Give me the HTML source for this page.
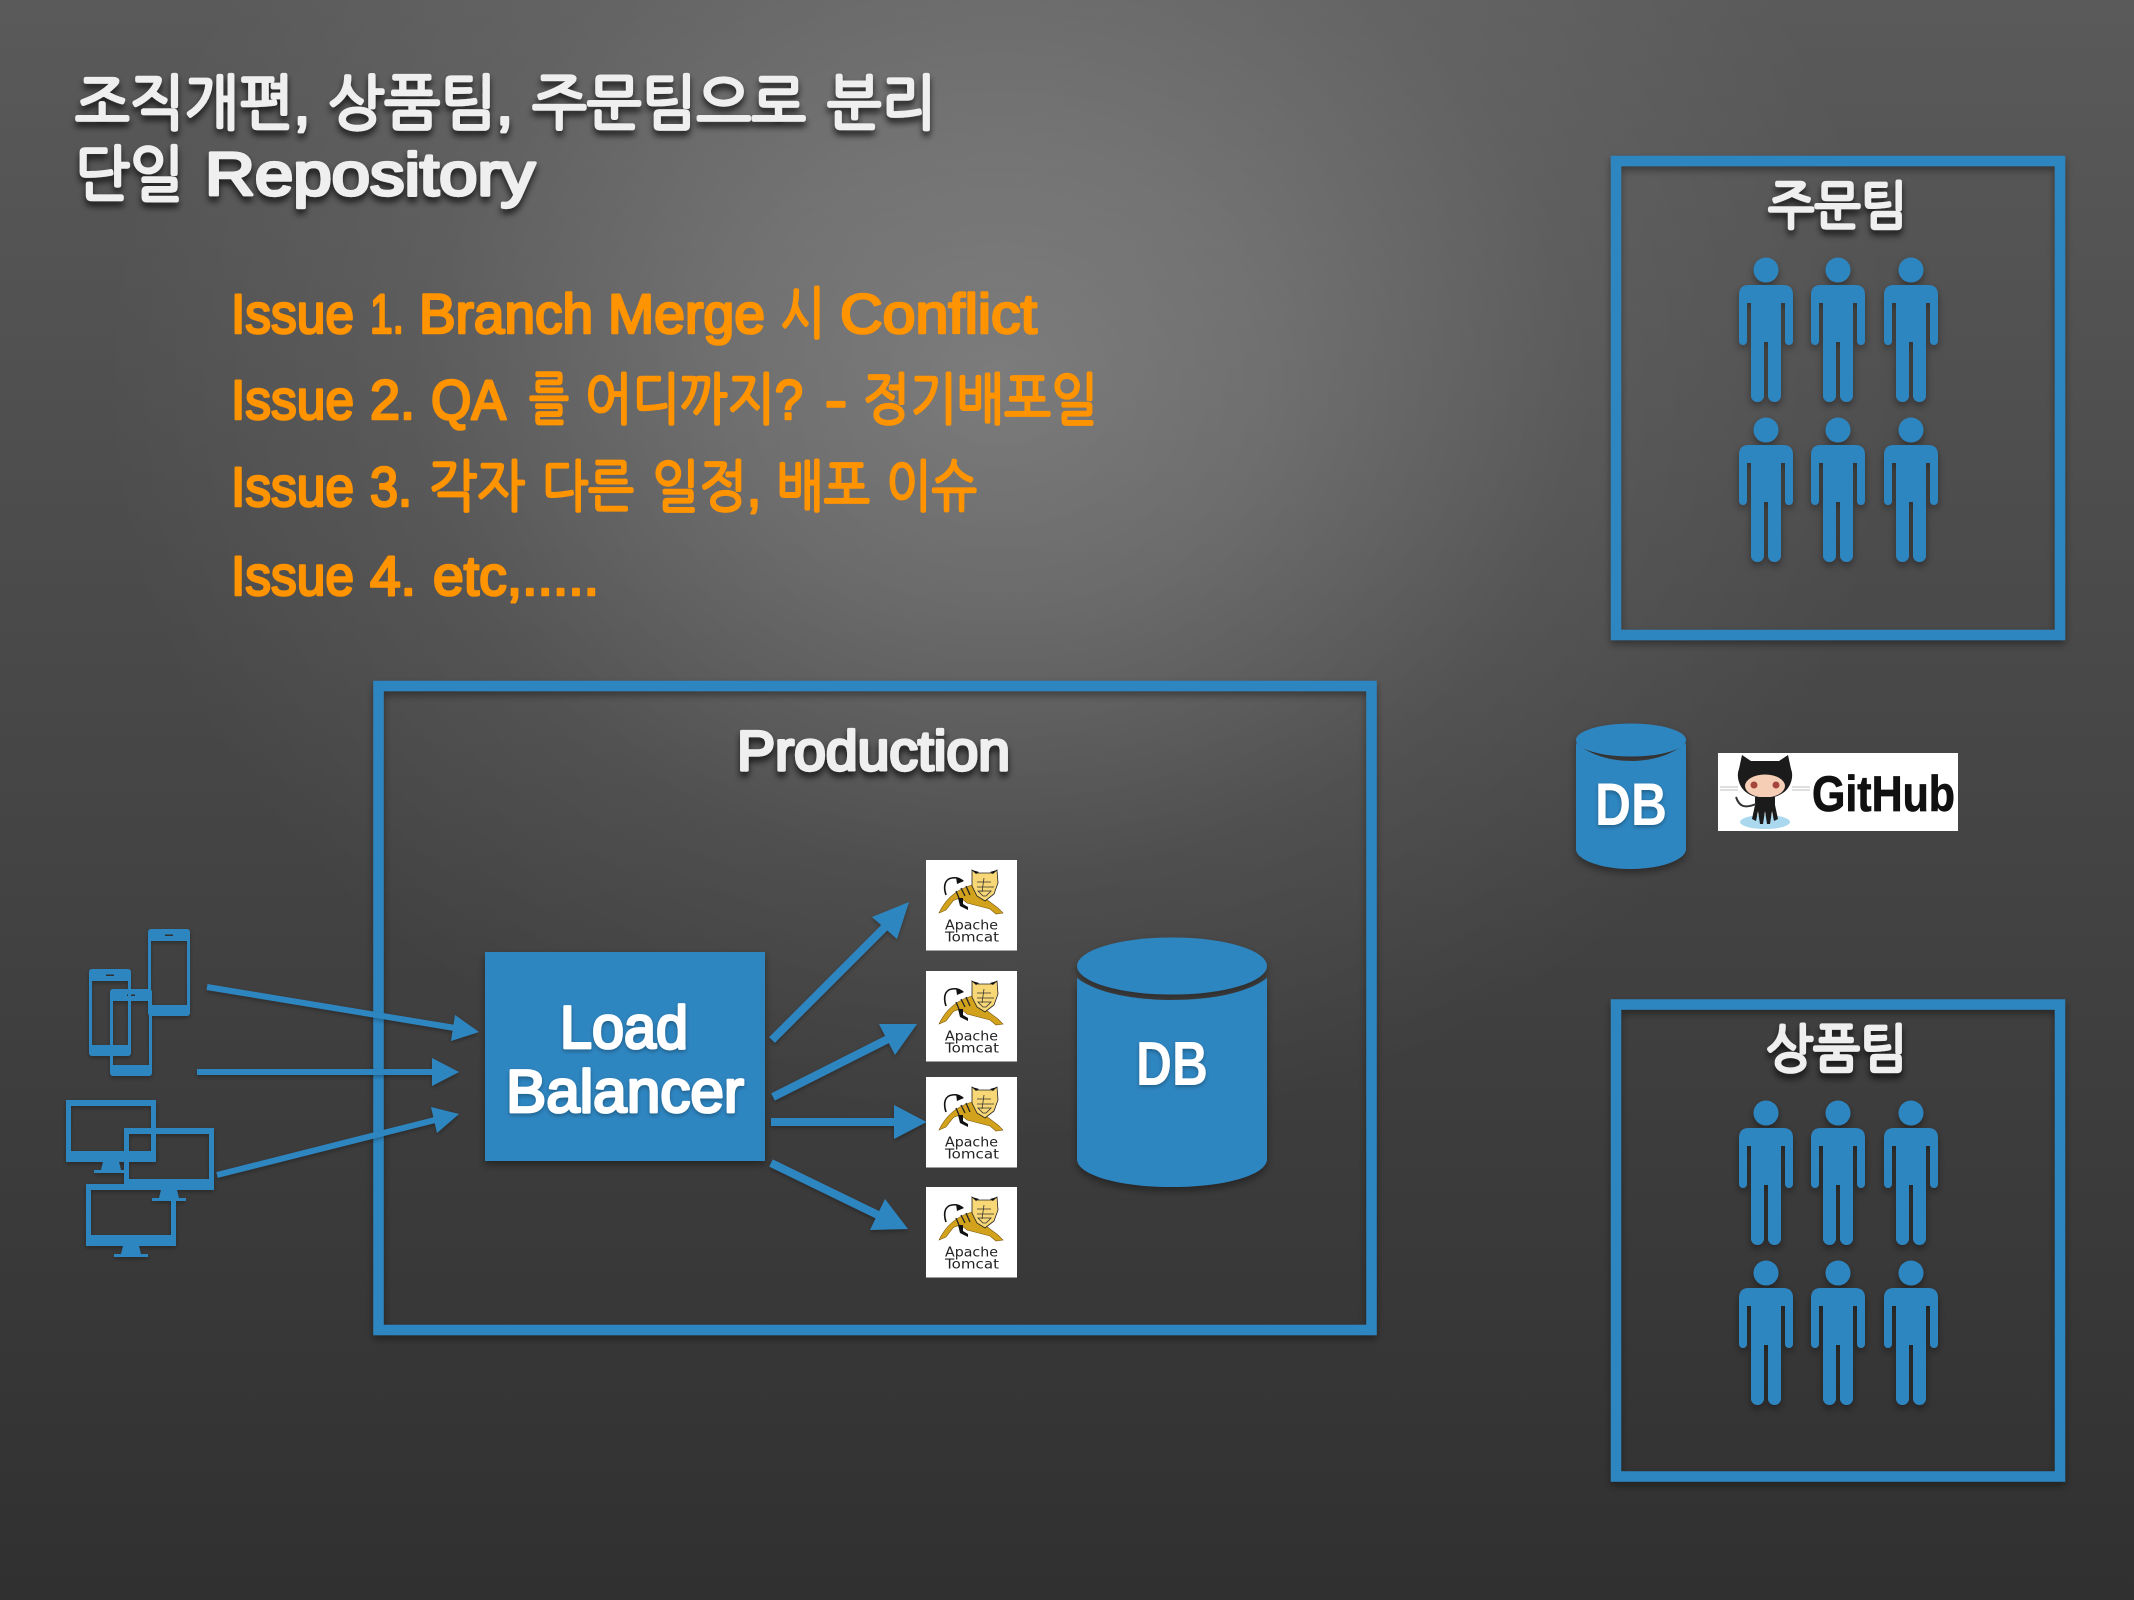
<!DOCTYPE html>
<html><head><meta charset="utf-8"><style>
html,body{margin:0;padding:0;width:2134px;height:1600px;overflow:hidden;background:#3a3a3a}
svg{display:block}
.k{font-family:"Liberation Sans","NanumGothic","Noto Sans CJK KR",sans-serif;font-weight:400;stroke-linejoin:round;stroke-linecap:round;paint-order:stroke}
.w{fill:#efefef;stroke:#efefef;stroke-width:3.200}
.o{fill:#ff9300;stroke:#ff9300;stroke-width:2.600}
.l{font-family:"Liberation Sans","DejaVu Sans",sans-serif;font-weight:700;fill:#fff}
.r{font-family:"Liberation Sans","DejaVu Sans",sans-serif;font-weight:400;fill:#fff;stroke:#fff;stroke-width:2.800;stroke-linejoin:round}
.t{font-family:"DejaVu Sans","Liberation Sans",sans-serif;font-size:13.500px;fill:#222}
</style></head><body>
<svg width="2134" height="1600" viewBox="0 0 2134 1600" xmlns="http://www.w3.org/2000/svg">
<defs>
<linearGradient id="bgl" x1="0" y1="0" x2="0" y2="1"><stop offset="0" stop-color="#5a5a5a"/><stop offset="1" stop-color="#303030"/></linearGradient>
<radialGradient id="bg" gradientUnits="userSpaceOnUse" cx="1000" cy="380" r="900" gradientTransform="translate(1000 380) scale(1 .85) translate(-1000 -380)">
<stop offset="0" stop-color="#fff" stop-opacity=".25"/><stop offset=".3" stop-color="#fff" stop-opacity=".18"/><stop offset=".65" stop-color="#fff" stop-opacity=".06"/><stop offset="1" stop-color="#fff" stop-opacity="0"/>
</radialGradient>
<filter id="s" x="-10%" y="-10%" width="120%" height="125%"><feDropShadow dx="0" dy="4" stdDeviation="4" flood-color="#000" flood-opacity=".38"/></filter>
<filter id="ts" x="-10%" y="-20%" width="120%" height="150%"><feDropShadow dx="0" dy="5" stdDeviation="3.500" flood-color="#000" flood-opacity=".7"/></filter>
<filter id="as" x="-20%" y="-20%" width="140%" height="140%"><feDropShadow dx="0" dy="2" stdDeviation="2" flood-color="#000" flood-opacity=".3"/></filter>
<path id="p" d="M-17,15H17Q27,15 27,25V71a4,4 0 0 1-8,0V33H15V125.500a6.500,6.500 0 0 1-13,0V72H-2V125.500a6.500,6.500 0 0 1-13,0V33H-19V71a4,4 0 0 1-8,0V25Q-27,15-17,15Z"/>
<g id="person" fill="#2f86c1"><circle cx="0" cy="0" r="12.500"/><use href="#p"/></g>
<g id="people" filter="url(#s)">
<use href="#person" x="1766" y="270"/><use href="#person" x="1838" y="270"/><use href="#person" x="1911" y="270"/>
<use href="#person" x="1766" y="430"/><use href="#person" x="1838" y="430"/><use href="#person" x="1911" y="430"/>
</g>
<g id="cat">
<rect width="91" height="90.500" fill="#fff"/>
<path d="M20,35C17,26 19,19 26,18 31,17 34,19 37,21" fill="none" stroke="#111" stroke-width="1.600"/>
<path d="M30,17l8,4-7,3z" fill="#111"/>
<path d="M13,53C20,38 32,29 46,25L60,39 72,48 77,53 70,54 64,49 41,43C36,38 31,38 27,41L20,50Z" fill="#d3a21d" stroke="#7a5a10" stroke-width=".6"/>
<path d="M32,38L34,46 42,50 42,47 37,44 37,38Z" fill="#111"/>
<path d="M46,10l4,3h17l4-3 1,13-4,11-9,7-8-5-5-10Z" fill="#f8d777" stroke="#222" stroke-width=".8"/>
<path d="M46,10l4,4 3-2zM71,10l-4,4-3-2z" fill="#111"/>
<path d="M51,22h14M51,27h17M58,18l-2,14M52,31h13l-5,5h-3z" fill="none" stroke="#333" stroke-width=".8"/>
<path d="M35,28l4,8M40,26l4,9M30,31l3,7" fill="none" stroke="#222" stroke-width="1.300"/>
</g>
<g id="phone"><path fill-rule="evenodd" fill="#2f86c1" d="M3,0H39a3,3 0 0 1 3,3V84a3,3 0 0 1-3,3H3a3,3 0 0 1-3-3V3A3,3 0 0 1 3,0ZM3,12V76H39V12ZM17,5.500v1.500h8v-1.500z"/></g>
<g id="mon"><path fill-rule="evenodd" fill="#2f86c1" d="M0,0H90V62H0ZM5,6V51H85V6Z"/><path fill="#2f86c1" d="M37,62H53L55,70H62V73H28V70H35Z"/></g>
</defs>
<rect width="2134" height="1600" fill="url(#bgl)"/>
<rect width="2134" height="1600" fill="url(#bg)"/>

<g class="k w" filter="url(#ts)" font-size="60">
<text x="75" y="124" textLength="235" lengthAdjust="spacingAndGlyphs">조직개편,</text>
<text x="328" y="124" textLength="185" lengthAdjust="spacingAndGlyphs">상품팀,</text>
<text x="532" y="124" textLength="274" lengthAdjust="spacingAndGlyphs">주문팀으로</text>
<text x="827" y="124" textLength="109" lengthAdjust="spacingAndGlyphs">분리</text>
<text x="75" y="195" textLength="109" lengthAdjust="spacingAndGlyphs">단일</text>
<text x="205" y="195" textLength="330" lengthAdjust="spacingAndGlyphs">Repository</text>
</g>

<g class="k o" font-size="56">
<text x="231" y="333" textLength="123" lengthAdjust="spacingAndGlyphs">Issue</text><text x="370" y="333" textLength="34" lengthAdjust="spacingAndGlyphs">1.</text><text x="419" y="333" textLength="174" lengthAdjust="spacingAndGlyphs">Branch</text><text x="608" y="333" textLength="157" lengthAdjust="spacingAndGlyphs">Merge</text><text x="780" y="333" textLength="45" lengthAdjust="spacingAndGlyphs">시</text><text x="840" y="333" textLength="197" lengthAdjust="spacingAndGlyphs">Conflict</text>
<text x="231" y="419" textLength="123" lengthAdjust="spacingAndGlyphs">Issue</text><text x="370" y="419" textLength="45" lengthAdjust="spacingAndGlyphs">2.</text><text x="431" y="419" textLength="75" lengthAdjust="spacingAndGlyphs">QA</text><text x="529" y="419" textLength="40" lengthAdjust="spacingAndGlyphs">를</text><text x="585" y="419" textLength="218" lengthAdjust="spacingAndGlyphs">어디까지?</text><text x="825" y="419" textLength="22" lengthAdjust="spacingAndGlyphs">-</text><text x="863" y="419" textLength="235" lengthAdjust="spacingAndGlyphs">정기배포일</text>
<text x="231" y="506" textLength="123" lengthAdjust="spacingAndGlyphs">Issue</text><text x="370" y="506" textLength="42" lengthAdjust="spacingAndGlyphs">3.</text><text x="429" y="506" textLength="96" lengthAdjust="spacingAndGlyphs">각자</text><text x="542" y="506" textLength="92" lengthAdjust="spacingAndGlyphs">다른</text><text x="652" y="506" textLength="109" lengthAdjust="spacingAndGlyphs">일정,</text><text x="777" y="506" textLength="93" lengthAdjust="spacingAndGlyphs">배포</text><text x="886" y="506" textLength="91" lengthAdjust="spacingAndGlyphs">이슈</text>
<text x="231" y="595" textLength="123" lengthAdjust="spacingAndGlyphs">Issue</text><text x="370" y="595" textLength="46" lengthAdjust="spacingAndGlyphs">4.</text><text x="433" y="595" textLength="166" lengthAdjust="spacingAndGlyphs">etc,.....</text>
</g>

<g filter="url(#s)" fill="none" stroke="#2f86c1" stroke-width="10.500">
<rect x="378.500" y="686" width="993" height="644"/>
<rect x="1616" y="161" width="444" height="474"/>
<rect x="1616" y="1004.500" width="444" height="472"/>
</g>

<text class="k w" filter="url(#ts)" x="1768" y="224" font-size="52" textLength="139" lengthAdjust="spacingAndGlyphs">주문팀</text>
<text class="k w" filter="url(#ts)" x="1766" y="1067" font-size="52" textLength="141" lengthAdjust="spacingAndGlyphs">상품팀</text>
<use href="#people"/>
<use href="#people" y="843"/>

<text class="k w" filter="url(#ts)" x="737" y="770" font-size="56" textLength="273" lengthAdjust="spacingAndGlyphs">Production</text>

<rect x="485" y="952" width="280" height="209" fill="#2f86c1" filter="url(#s)"/>
<text class="r" filter="url(#as)" x="560" y="1048" font-size="60" textLength="128" lengthAdjust="spacingAndGlyphs">Load</text>
<text class="r" filter="url(#as)" x="506" y="1112" font-size="60" textLength="238" lengthAdjust="spacingAndGlyphs">Balancer</text>

<g filter="url(#as)" fill="#2f86c1" stroke="#2f86c1">
<line x1="207" y1="987" x2="455" y2="1028" stroke-width="6"/><path stroke="none" d="M479,1032L451,1041 455,1015Z"/>
<line x1="197" y1="1072" x2="435" y2="1072" stroke-width="6"/><path stroke="none" d="M459,1072L432,1086V1058Z"/>
<line x1="217" y1="1175" x2="435" y2="1120" stroke-width="6"/><path stroke="none" d="M459,1114L437,1133 431,1107Z"/>
<line x1="772" y1="1040" x2="888" y2="924" stroke-width="8"/><path stroke="none" d="M909,902L897,939 872,917Z"/>
<line x1="773" y1="1097" x2="890" y2="1038" stroke-width="8"/><path stroke="none" d="M917,1024L895,1055 879,1024Z"/>
<line x1="771" y1="1122" x2="895" y2="1122" stroke-width="8"/><path stroke="none" d="M926.500,1122L894,1139V1105Z"/>
<line x1="771" y1="1163" x2="880" y2="1216" stroke-width="8"/><path stroke="none" d="M908,1229L870,1230 885,1199Z"/>
</g>

<g filter="url(#as)">
<use href="#phone" x="148" y="929"/><use href="#phone" x="89" y="969"/><use href="#phone" x="110" y="989"/>
<use href="#mon" x="66" y="1100"/><use href="#mon" x="124" y="1128"/><use href="#mon" x="86" y="1184"/>
</g>

<use href="#cat" x="926" y="860"/><text class="t" x="945" y="929.500" textLength="53" lengthAdjust="spacingAndGlyphs">Apache</text><text class="t" x="945" y="941.500" textLength="54" lengthAdjust="spacingAndGlyphs">Tomcat</text>
<use href="#cat" x="926" y="971"/><text class="t" x="945" y="1040.500" textLength="53" lengthAdjust="spacingAndGlyphs">Apache</text><text class="t" x="945" y="1052.500" textLength="54" lengthAdjust="spacingAndGlyphs">Tomcat</text>
<use href="#cat" x="926" y="1077"/><text class="t" x="945" y="1146.500" textLength="53" lengthAdjust="spacingAndGlyphs">Apache</text><text class="t" x="945" y="1158.500" textLength="54" lengthAdjust="spacingAndGlyphs">Tomcat</text>
<use href="#cat" x="926" y="1187"/><text class="t" x="945" y="1256.500" textLength="53" lengthAdjust="spacingAndGlyphs">Apache</text><text class="t" x="945" y="1268.500" textLength="54" lengthAdjust="spacingAndGlyphs">Tomcat</text>

<g filter="url(#s)" fill="#2f86c1">
<path d="M1077,978C1095,992 1130,1000 1172,1000S1249,992 1267,978V1159C1267,1175 1225,1187 1172,1187S1077,1175 1077,1159Z"/>
<ellipse cx="1172" cy="966" rx="95" ry="28.500"/>
</g>
<text class="l" filter="url(#as)" x="1136" y="1085" font-size="62" textLength="72" lengthAdjust="spacingAndGlyphs">DB</text>

<g filter="url(#s)" fill="#2f86c1">
<path d="M1576,743C1590,755 1610,761 1631,761S1672,755 1686,743V849C1686,860 1660,869 1631,869S1576,860 1576,849Z"/>
<ellipse cx="1631" cy="740" rx="55" ry="16.500"/>
</g>
<text class="l" filter="url(#as)" x="1595" y="825" font-size="60" textLength="72" lengthAdjust="spacingAndGlyphs">DB</text>

<rect x="1718" y="753" width="240" height="78" fill="#fff"/>
<ellipse cx="1765" cy="822" rx="25" ry="7" fill="#a9d8ef"/>
<path d="M1720,787h18M1720,790h18M1792,787h18M1792,790h18" stroke="#ccc" stroke-width="1.200" fill="none"/>
<path d="M1742,755l9,6h28l9-6 3,14c2,5 1,10 0,13-3,10-13,16-26,16s-23-6-26-16c-1-3-2-8 0-13Z" fill="#1b1b1b"/>
<ellipse cx="1765" cy="786" rx="20" ry="11.500" fill="#f6cdb5"/>
<circle cx="1754" cy="785" r="3.500" fill="#a5463c"/><circle cx="1776" cy="785" r="3.500" fill="#a5463c"/>
<path d="M1755,797h20v8l3,14-4,2-2-10-2,13-3,0-2-13-2,13-3,0-2-13-2,10-4-2 3-14Z" fill="#1b1b1b"/>
<path d="M1736,797c3,9 8,12 20,7" stroke="#333" stroke-width="2" fill="none"/>
<text x="1812" y="811" font-family="Liberation Sans,sans-serif" font-weight="700" font-size="50" fill="#111" stroke="#111" stroke-width=".8" textLength="143" lengthAdjust="spacingAndGlyphs">GitHub</text>
</svg>
</body></html>
